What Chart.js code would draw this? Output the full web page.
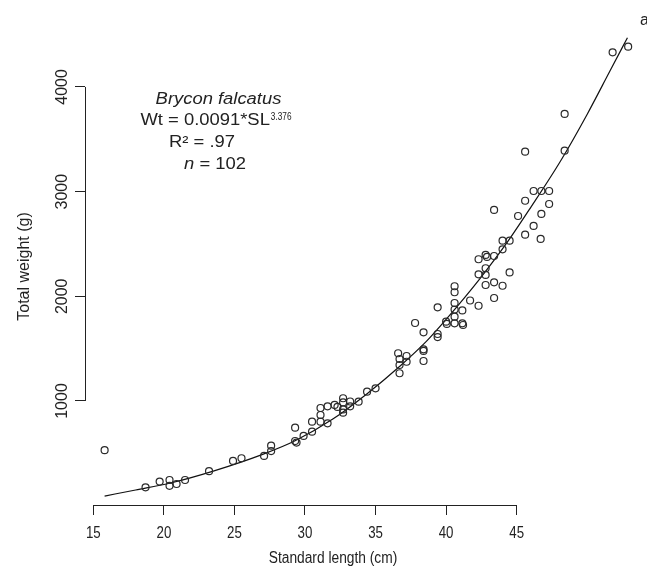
<!DOCTYPE html>
<html lang="en">
<head>
    <meta charset="UTF-8">
    <title>Brycon falcatus length-weight</title>
    <script src="https://cdn.jsdelivr.net/npm/chart.js"></script>
    <style>
        body {
            margin: 0;
            background: #ffffff;
        }
        #chart-container {
            width: 647px;
            height: 566px;
        }
    </style>
</head>
<body>

    <div id="chart-container">
        <canvas id="lwChart" width="647" height="566"></canvas>
    </div>

    <script>
        // observed fish: standard length (cm) and total weight (g)
        const standardLength = [
            15.8, 18.7, 19.7, 20.4, 20.4, 20.9, 21.5, 23.2, 24.9, 25.5,
            27.1, 27.6, 27.6, 29.3, 29.3, 29.4, 29.9, 30.5, 30.5, 31.1,
            31.1, 31.1, 31.6, 31.6, 32.1, 32.3, 32.7, 32.7, 32.7, 32.7,
            33.2, 33.2, 33.8, 34.4, 35.0, 36.6, 36.7, 36.7, 36.7, 37.2,
            37.2, 37.8, 38.4, 38.4, 38.4, 38.4, 39.4, 39.4, 39.4, 40.0,
            40.05, 40.6, 40.6, 40.6, 40.6, 40.6, 40.6, 41.15, 41.15, 41.2,
            41.7, 42.3, 42.3, 42.3, 42.8, 42.8, 42.8, 42.8, 42.9, 43.4,
            43.4, 43.4, 43.4, 44.0, 44.0, 44.0, 44.5, 44.5, 45.1, 45.6,
            45.6, 45.6, 46.2, 46.2, 46.75, 46.75, 46.7, 47.3, 47.3, 48.4,
            48.4, 51.8, 52.9
        ];
        const totalWeight = [
            530, 175, 230, 245, 190, 207, 245, 330, 427, 453,
            475, 522, 573, 745, 618, 603, 666, 707, 802, 802,
            866, 933, 787, 949, 962, 943, 1026, 986, 919, 888,
            995, 949, 993, 1089, 1121, 1456, 1401, 1344, 1265, 1430,
            1375, 1745, 1656, 1494, 1478, 1382, 1895, 1640, 1611, 1758,
            1736, 2096, 2039, 1936, 1874, 1805, 1742, 1865, 1742, 1726,
            1960, 1910, 2210, 2354, 2204, 2108, 2268, 2395, 2376, 2385,
            2825, 2134, 1984, 2101, 2449, 2531, 2531, 2228, 2767, 2913,
            2589, 3382, 3006, 2672, 3006, 2787, 2548, 3006, 2882, 3742,
            3391, 4331, 4385
        ];

        // fitted curve
        const curveLength = [15.8, 18.0, 20.4, 23.5, 27.0, 29.3, 32.0, 34.4, 36.7, 38.6,
                             40.0, 42.4, 44.3, 46.0, 48.1, 50.0, 51.6, 52.85];
        const curveWeight = [92, 150, 214, 330, 490, 620, 830, 1070, 1330, 1570,
                             1780, 2170, 2510, 2850, 3290, 3740, 4150, 4470];

        const xTicks = [15, 20, 25, 30, 35, 40, 45];
        const yTicks = [1000, 2000, 3000, 4000];

        const annotation = ["Brycon falcatus", "Wt = 0.0091*SL", "3.376", "R\u00B2 = .97", "n", " = 102"];
        const xTitle = "Standard length (cm)";
        const yTitle = "Total weight (g)";
        const panelLabel = "a";

        const FONT = "'Liberation Sans', Arial, sans-serif";

        function drawText(ctx, s, x, y, size, sx, align, style) {
            ctx.save();
            ctx.translate(x, y);
            ctx.scale(sx, 1);
            ctx.font = (style || "") + " " + size + "px " + FONT;
            ctx.textAlign = align;
            ctx.textBaseline = "alphabetic";
            ctx.fillText(s, 0, 0);
            ctx.restore();
        }

        function textWidth(ctx, s, size, sx, style) {
            ctx.font = (style || "") + " " + size + "px " + FONT;
            return ctx.measureText(s).width * sx;
        }

        // R-style axes, labels and the text block
        const rStyle = {
            id: "rStyle",
            afterDraw(chart) {
                const ctx = chart.ctx;
                const xs = chart.scales.x;
                const ys = chart.scales.y;
                const area = chart.chartArea;
                ctx.save();
                ctx.strokeStyle = "#222";
                ctx.fillStyle = "#222";
                ctx.lineWidth = 1;

                const yb = Math.floor(area.bottom) + 0.5;
                ctx.beginPath();
                ctx.moveTo(xs.getPixelForValue(xTicks[0]), yb);
                ctx.lineTo(xs.getPixelForValue(xTicks[xTicks.length - 1]), yb);
                ctx.stroke();

                const xl = Math.floor(area.left) + 0.5;
                ctx.beginPath();
                ctx.moveTo(xl, ys.getPixelForValue(yTicks[0]));
                ctx.lineTo(xl, ys.getPixelForValue(yTicks[yTicks.length - 1]));
                ctx.stroke();

                xTicks.forEach(v => {
                    drawText(ctx, String(v), xs.getPixelForValue(v), 537.5, 16, 0.83, "center");
                });
                drawText(ctx, xTitle, 333, 563, 16, 0.86, "center");

                yTicks.forEach(v => {
                    ctx.save();
                    ctx.translate(66.5, ys.getPixelForValue(v));
                    ctx.rotate(-Math.PI / 2);
                    ctx.font = "16px " + FONT;
                    ctx.textAlign = "center";
                    ctx.textBaseline = "alphabetic";
                    ctx.fillText(String(v), 0, 0);
                    ctx.restore();
                });
                ctx.save();
                ctx.translate(29, 266.5);
                ctx.rotate(-Math.PI / 2);
                ctx.font = "16px " + FONT;
                ctx.textAlign = "center";
                ctx.fillText(yTitle, 0, 0);
                ctx.restore();

                // text block
                const sx = 1.15;
                drawText(ctx, annotation[0], 218.5, 103.5, 16, sx, "center", "italic");

                const wMain = textWidth(ctx, annotation[1], 16, sx);
                const wSup = textWidth(ctx, annotation[2], 11, 0.75);
                const left = 215.5 - (wMain + wSup) / 2;
                drawText(ctx, annotation[1], left, 125, 16, sx, "left");
                drawText(ctx, annotation[2], left + wMain + 1, 119.5, 11, 0.75, "left");

                drawText(ctx, annotation[3], 202, 147, 16, sx, "center");

                const wn = textWidth(ctx, annotation[4], 16, sx, "italic");
                const wr = textWidth(ctx, annotation[5], 16, sx);
                const ln = 215 - (wn + wr) / 2;
                drawText(ctx, annotation[4], ln, 168.5, 16, sx, "left", "italic");
                drawText(ctx, annotation[5], ln + wn, 168.5, 16, sx, "left");

                drawText(ctx, panelLabel, 640, 25, 16, 1, "left");
                ctx.restore();
            }
        };

        const points = standardLength.map((v, i) => ({ x: v, y: totalWeight[i] }));
        const curve = curveLength.map((v, i) => ({ x: v, y: curveWeight[i] }));

        const ctx = document.getElementById("lwChart").getContext("2d");
        new Chart(ctx, {
            type: "scatter",
            data: {
                datasets: [{
                    label: "Fish",
                    data: points,
                    borderColor: "#2a2a2a",
                    backgroundColor: "rgba(0,0,0,0)",
                    borderWidth: 1.2,
                    pointRadius: 3.5,
                    pointHoverRadius: 3.5
                }, {
                    label: "Fit",
                    type: "line",
                    data: curve,
                    borderColor: "#111",
                    borderWidth: 1.2,
                    pointRadius: 0,
                    fill: false,
                    cubicInterpolationMode: "monotone"
                }]
            },
            options: {
                responsive: false,
                animation: false,
                layout: {
                    padding: { left: 0, right: 7, top: 30, bottom: 0 }
                },
                plugins: {
                    legend: { display: false },
                    tooltip: { enabled: false }
                },
                scales: {
                    x: {
                        type: "linear",
                        min: 14.41,
                        max: 53.74,
                        afterFit: s => { s.height = 61; },
                        afterBuildTicks: s => { s.ticks = xTicks.map(v => ({ value: v })); },
                        ticks: { display: false },
                        grid: { drawOnChartArea: false, drawTicks: true, tickLength: 10, color: "#222", lineWidth: 1 },
                        border: { display: false }
                    },
                    y: {
                        type: "linear",
                        min: 6.4,
                        max: 4544,
                        afterFit: s => { s.width = 85; },
                        afterBuildTicks: s => { s.ticks = yTicks.map(v => ({ value: v })); },
                        ticks: { display: false },
                        grid: { drawOnChartArea: false, drawTicks: true, tickLength: 10, color: "#222", lineWidth: 1 },
                        border: { display: false }
                    }
                }
            },
            plugins: [rStyle]
        });
    </script>

</body>
</html>
